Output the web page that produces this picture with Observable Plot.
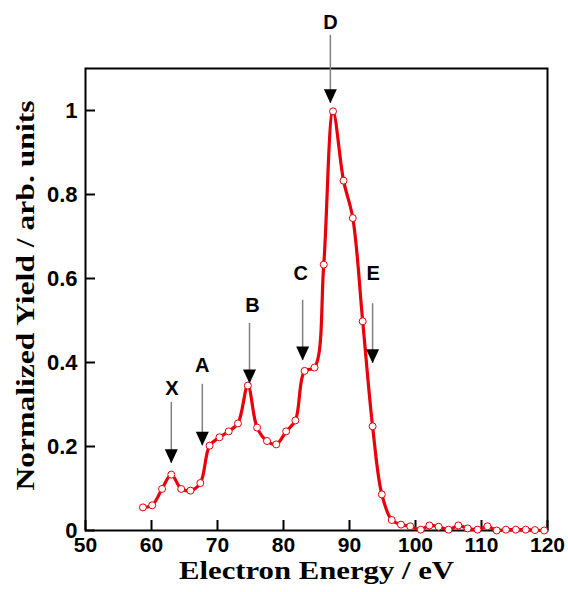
<!DOCTYPE html>
<html>
<head>
<meta charset="utf-8">
<script src="https://cdn.jsdelivr.net/npm/d3@7"></script>
<script src="https://cdn.jsdelivr.net/npm/@observablehq/plot@0.6"></script>
<style>
  html, body { margin: 0; padding: 0; background: white; }
  #chart svg { display: block; }
</style>
</head>
<body>
<div id="chart"></div>
<script>
// Measured spectrum
const energy = [58.7, 60.1, 61.6, 63.0, 64.5, 65.9, 67.4, 68.8, 70.3, 71.7, 73.1, 74.6, 76.0, 77.5, 78.9, 80.4, 81.8, 83.2, 84.7, 86.1, 87.5, 89.1, 90.5, 92.0, 93.5, 94.9, 96.4, 97.8, 99.2, 100.8, 102.1, 103.5, 105.0, 106.5, 107.9, 109.4, 110.9, 112.3, 113.7, 115.2, 116.7, 118.1, 119.5];
const yieldv = [0.055, 0.060, 0.099, 0.133, 0.099, 0.095, 0.113, 0.202, 0.222, 0.236, 0.255, 0.345, 0.245, 0.213, 0.205, 0.236, 0.262, 0.380, 0.388, 0.633, 0.998, 0.833, 0.744, 0.498, 0.248, 0.086, 0.025, 0.014, 0.010, 0.002, 0.012, 0.009, 0.002, 0.012, 0.005, 0.002, 0.010, 0.0, 0.002, 0.002, 0.002, 0.001, 0.0];

// Peak annotations (data coordinates)
const peakLabels = ["X", "A", "B", "C", "D", "E"];
const labelX    = [63.1, 67.7, 75.3, 82.6, 87.1, 93.6];
const labelY    = [0.338, 0.393, 0.536, 0.612, 1.21, 0.612];
const arrowX    = [63.0, 67.7, 74.85, 82.9, 87.1, 93.5];
const arrowTop  = [0.305, 0.348, 0.493, 0.548, 1.179, 0.540];
const arrowTip  = [0.160, 0.202, 0.350, 0.405, 1.017, 0.398];

// Tick labels
const xTicks = [50, 60, 70, 80, 90, 100, 110, 120];
const yTicks = [0, 0.2, 0.4, 0.6, 0.8, 1];
const xTitle = "Electron Energy / eV";
const yTitle = "Normalized Yield / arb. units";

const data = energy.map((e, i) => ({e, v: yieldv[i]}));
const notes = peakLabels.map((t, i) => ({t, lx: labelX[i], ly: labelY[i], ax: arrowX[i], a0: arrowTop[i], a1: arrowTip[i]}));

const RED = "#e8000b";
const sans = "'Liberation Sans', Arial, sans-serif";
const serif = "'Liberation Serif', 'Times New Roman', serif";

const chart = Plot.plot({
  width: 568,
  height: 592,
  marginLeft: 85,
  marginRight: 21,
  marginTop: 68,
  marginBottom: 62,
  style: {fontFamily: sans, background: "white", color: "black"},
  x: {domain: [50, 120]},
  y: {domain: [0, 1.1]},
  marks: [
    Plot.axisX(xTicks, {anchor: "bottom", tickSize: -10, tickPadding: 17, strokeWidth: 2, fontSize: 21, fontWeight: "bold", fontFamily: sans, label: null, tickFormat: d => String(d)}),
    Plot.axisY(yTicks, {anchor: "left", tickSize: -10, tickPadding: 18, strokeWidth: 2, fontSize: 22, fontWeight: "bold", fontFamily: sans, label: null, tickFormat: d => String(d)}),
    Plot.frame({stroke: "black", strokeWidth: 2}),
    Plot.line(data, {x: "e", y: "v", curve: "catmull-rom", stroke: RED, strokeWidth: 3.2}),
    Plot.dot(data, {x: "e", y: "v", r: 3.5, fill: "white", stroke: RED, strokeWidth: 1}),
    Plot.ruleX(notes, {x: "ax", y1: "a0", y2: "a1", stroke: "#808080", strokeWidth: 1.5}),
    Plot.vector(notes, {x: "ax", y: "a1", length: 14, r: 6.5, rotate: 180, anchor: "end", shape: "spike", fill: "black", stroke: "none"}),
    Plot.text(notes, {x: "lx", y: "ly", text: "t", fontSize: 20, fontWeight: "bold", fontFamily: sans, fill: "black"}),
    Plot.text([xTitle], {frameAnchor: "bottom", textAnchor: "middle", lineAnchor: "middle", dy: 40, fontSize: 25, fontWeight: "bold", fontFamily: serif, fill: "black", className: "xtitle"}),
    Plot.text([yTitle], {frameAnchor: "left", textAnchor: "middle", lineAnchor: "middle", dx: -60, dy: -4, rotate: -90, fontSize: 26, fontWeight: "bold", fontFamily: serif, fill: "black", className: "ytitle"})
  ]
});
// widen the serif titles to match the reference's wide bold face
d3.select(chart).selectAll(".xtitle text").attr("textLength", 275).attr("lengthAdjust", "spacingAndGlyphs");
d3.select(chart).selectAll(".ytitle text").attr("textLength", 390).attr("lengthAdjust", "spacingAndGlyphs");
document.getElementById("chart").appendChild(chart);
</script>
</body>
</html>
